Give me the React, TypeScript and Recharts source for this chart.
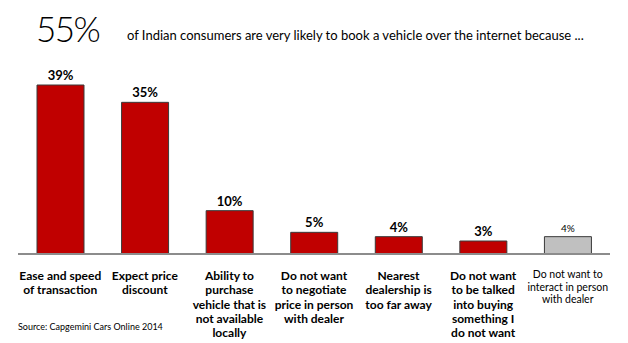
import React from "react";
import { BarChart, Bar, XAxis, YAxis, Cell, LabelList } from "recharts";

// reasons
const categories = [
  "Ease and speed of transaction",
  "Expect price discount",
  "Ability to purchase vehicle that is not available locally",
  "Do not want to negotiate price in person with dealer",
  "Nearest dealership is too far away",
  "Do not want to be talked into buying something I do not want",
  "Do not want to interact in person with dealer",
];

// how each category label is broken on the slide
const tickLines = [
  ["Ease and speed", "of transaction"],
  ["Expect price", "discount"],
  ["Ability to", "purchase", "vehicle that is", "not available", "locally"],
  ["Do  not want", "to negotiate", "price in person", "with dealer"],
  ["Nearest", "dealership is", "too far away"],
  ["Do not want", "to be talked", "into buying", "something I", "do not want"],
  ["Do not want to", "interact in person", "with dealer"],
];

const shares = [39, 35, 10, 5, 4, 3, 4];
// the last reason is shown greyed out
const highlighted = [true, true, true, true, true, true, false];

const headline = "55%";
const subtitle = "of Indian consumers are very likely to book a vehicle over the internet because ...";
const source = "Source: Capgemini Cars Online 2014";

const data = categories.map((name, i) => ({
  name,
  share: shares[i],
  lines: tickLines[i],
  main: highlighted[i],
}));

const FONT = "Lato, 'Open Sans', sans-serif";

function CategoryTick(props: any) {
  const { x, y, index } = props;
  const row = data[index];
  if (!row) return null;
  const main = row.main;
  const step = main ? 14.3 : 12.5;
  const first = main ? 24 : 22;
  return (
    <text
      x={x}
      y={y}
      textAnchor="middle"
      fontFamily={FONT}
      fontSize={main ? 12 : 10.5}
      fontWeight={main ? 700 : 400}
      fill="#000"
    >
      {row.lines.map((line, i) => (
        <tspan key={i} x={x} y={y + first + i * step}>
          {line}
        </tspan>
      ))}
    </text>
  );
}

function ValueLabel(props: any) {
  const { x, y, width, value, index } = props;
  const main = data[index]?.main;
  return (
    <text
      x={x + width / 2}
      y={y - 5}
      textAnchor="middle"
      fontFamily={FONT}
      fontSize={main ? 13 : 10}
      fontWeight={main ? 700 : 400}
      fill="#000"
    >
      {value}%
    </text>
  );
}

export default function App() {
  return (
    <div style={{ position: "relative", width: 628, height: 343, background: "#fff" }}>
      <style>{`body{margin:0}`}</style>
      <BarChart
        width={628}
        height={343}
        data={data}
        margin={{ top: 85, right: 18, bottom: 0, left: 18 }}
      >
        <XAxis
          dataKey="name"
          interval={0}
          height={89}
          tickLine={false}
          tickSize={0}
          axisLine={{ stroke: "#8c8c8c", strokeWidth: 2 }}
          tick={<CategoryTick />}
        />
        <YAxis hide domain={[0, 39]} />
        <Bar dataKey="share" barSize={47} stroke="#3a3a3a" strokeWidth={1} isAnimationActive={false}>
          {data.map((d, i) => (
            <Cell key={`c-${i}`} fill={d.main ? "#c00000" : "#c0c0c0"} />
          ))}
          <LabelList dataKey="share" content={<ValueLabel />} />
        </Bar>
      </BarChart>
      <svg
        width={628}
        height={343}
        style={{ position: "absolute", left: 0, top: 0, pointerEvents: "none" }}
      >
        <text x={36} y={42} fontFamily={FONT} fontSize={35} fontWeight={300} letterSpacing={-1.5} fill="#000">
          {headline}
        </text>
        <text x={127} y={40} fontFamily={FONT} fontSize={13} fill="#000">
          {subtitle}
        </text>
        <text x={18} y={330} fontFamily={FONT} fontSize={9} fill="#000">
          {source}
        </text>
      </svg>
    </div>
  );
}
